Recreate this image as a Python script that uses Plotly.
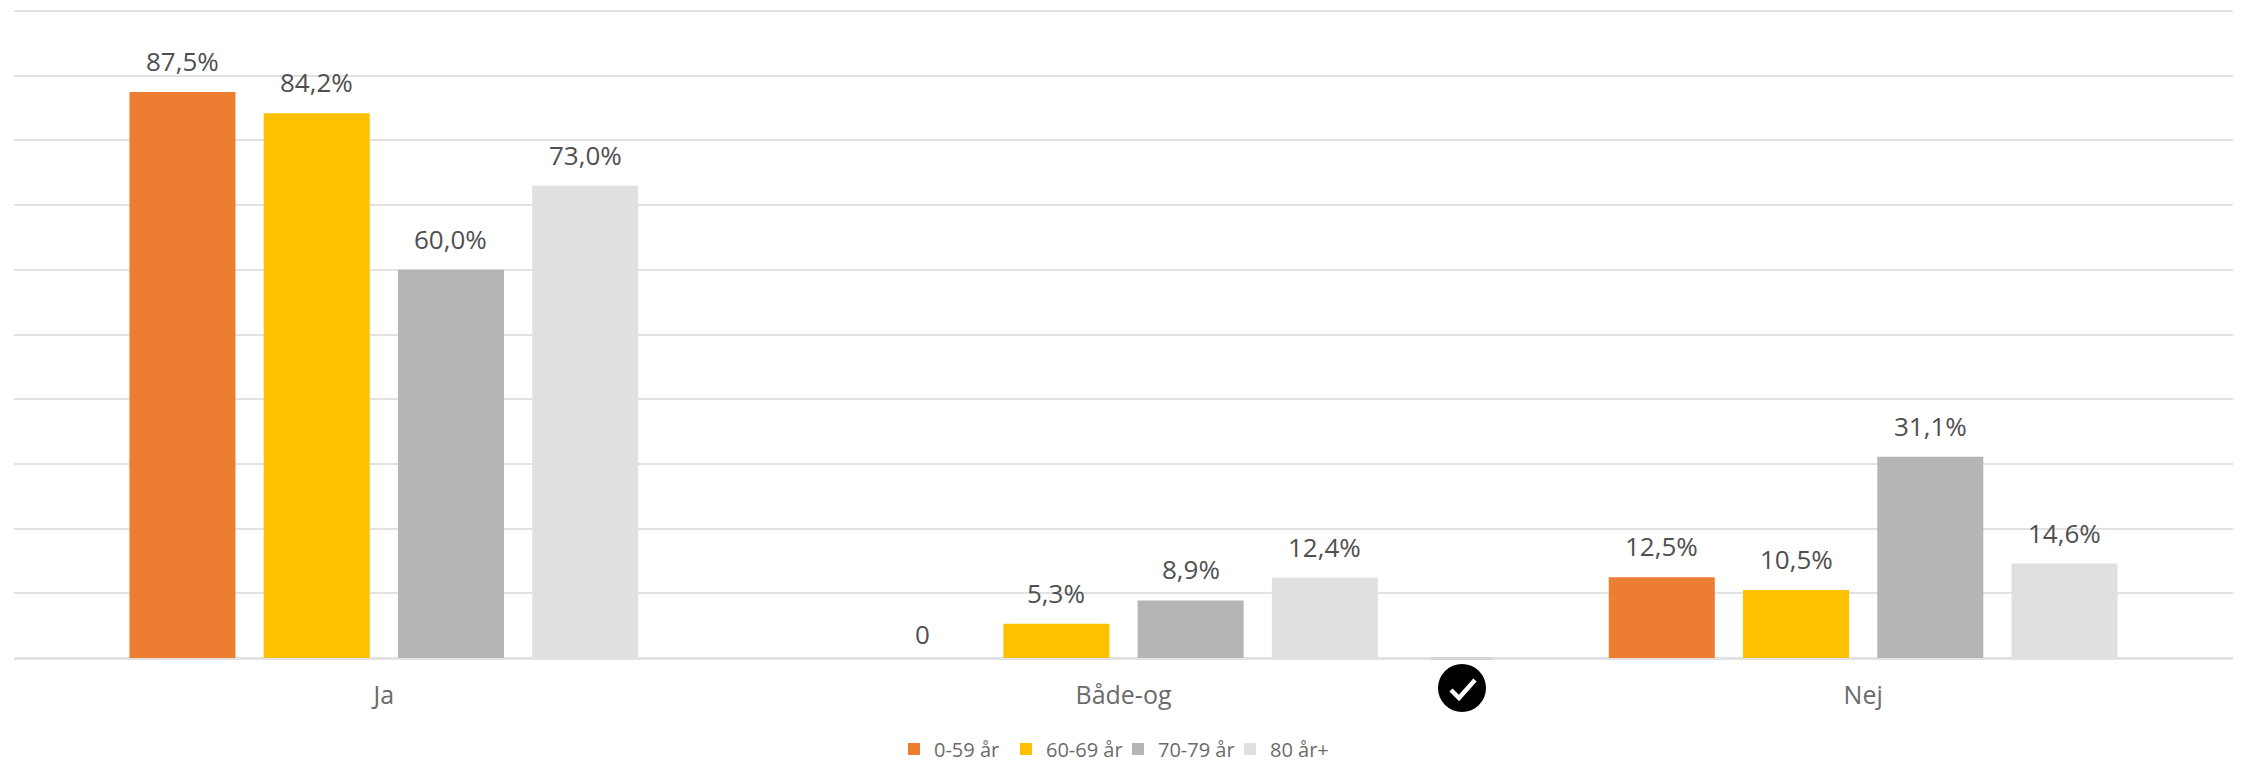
import plotly.graph_objects as go

categories = ["Ja", "Både-og", "Nej"]
series_names = ["0-59 år", "60-69 år", "70-79 år", "80 år+"]
v_0_59 = [87.5, 0.0, 12.5]
v_60_69 = [84.2, 5.3, 10.5]
v_70_79 = [60.0, 8.9, 31.1]
v_80 = [73.0, 12.4, 14.6]
labels_0_59 = ["87,5%", "0", "12,5%"]
labels_60_69 = ["84,2%", "5,3%", "10,5%"]
labels_70_79 = ["60,0%", "8,9%", "31,1%"]
labels_80 = ["73,0%", "12,4%", "14,6%"]
colors = ["#ED7D31", "#FFC000", "#B5B5B5", "#E0E0E0"]

W, H = 2244, 762
L, R, T, B = 14, 11, 9, 104
FONT = "Open Sans"
BARGAP = 0.274
Y_MAX = 100.31

cat_px = (W - L - R) / len(categories)
pitch = cat_px * (1 - BARGAP) / len(series_names)

fig = go.Figure()
annotations = []
for i, (name, vals, labs, col) in enumerate(zip(
    series_names,
    [v_0_59, v_60_69, v_70_79, v_80],
    [labels_0_59, labels_60_69, labels_70_79, labels_80],
    colors,
)):
    fig.add_trace(go.Bar(x=categories, y=vals, name=name, marker=dict(color=col, line_width=0)))
    for c, v, s in zip(categories, vals, labs):
        annotations.append(dict(
            x=c, y=v, xref="x", yref="y", text=s, showarrow=False,
            xanchor="center", yanchor="middle",
            xshift=(i - 1.5) * pitch, yshift=31 if v > 0 else 24,
            font=dict(family=FONT, size=26, color="#505050"),
        ))

px = lambda x: (x - L) / (W - L - R)
py = lambda y: 1 - (y - T) / (H - T - B)
cx, cy, r = 1462, 688, 24
shapes = [
    dict(type="rect", xref="paper", yref="paper", x0=px(1431), x1=px(1492), y0=py(660), y1=py(657),
         fillcolor="#D4D4D4", line_width=0, layer="above"),
    dict(type="circle", xref="paper", yref="paper", x0=px(cx - r), x1=px(cx + r), y0=py(cy + r), y1=py(cy - r),
         fillcolor="#000000", line_width=0, layer="above"),
    dict(type="path", xref="paper", yref="paper",
         path=f"M {px(1451)} {py(690)} L {px(1459)} {py(698)} L {px(1475)} {py(680)}",
         line=dict(color="#FFFFFF", width=4.5), layer="above"),
]

fig.update_layout(
    width=W, height=H, margin=dict(l=L, r=R, t=T, b=B, pad=0, autoexpand=False),
    paper_bgcolor="#FFFFFF", plot_bgcolor="#FFFFFF",
    barmode="group", bargap=BARGAP, bargroupgap=0.21,
    font=dict(family=FONT, color="#6B6B6B"),
    showlegend=True,
    legend=dict(orientation="h", xref="paper", yref="paper", x=px(894), xanchor="left",
                y=py(749), yanchor="middle", font=dict(family=FONT, size=20, color="#6B6B6B"),
                itemwidth=30, entrywidth=67, entrywidthmode="pixels",
                bgcolor="rgba(0,0,0,0)", traceorder="normal"),
    xaxis=dict(showgrid=False, showline=False, ticks="", ticklabelstandoff=20,
               tickfont=dict(family=FONT, size=25, color="#6B6B6B")),
    yaxis=dict(range=[0, Y_MAX], tick0=0, dtick=10, showgrid=True, gridcolor="#E2E2E2", gridwidth=2,
               zeroline=True, zerolinecolor="#E2E2E2", zerolinewidth=3, showticklabels=False, ticks=""),
    shapes=shapes, annotations=annotations,
)

fig.write_html("out.html", config={"displayModeBar": False},
               post_script="document.body.style.margin='0';document.body.style.overflow='hidden';")
